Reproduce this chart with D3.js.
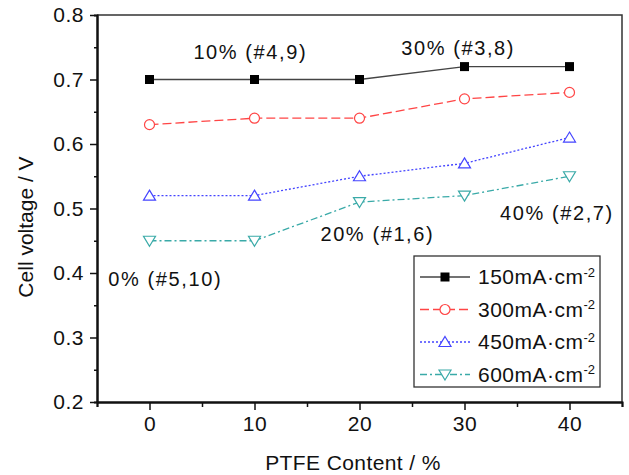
<!DOCTYPE html>
<html>
<head>
<meta charset="utf-8">
<script src="https://cdn.jsdelivr.net/npm/d3@7"></script>
<style>
	body { margin: 0; background: #fff; }
	text { font-family: "Liberation Sans", Arial, sans-serif; fill: #111; }
</style>
</head>
<body>
<svg class="chart"></svg>
<script>
// PTFE content (x) and cell voltage for each current density
var ptfe = [0, 10, 20, 30, 40];
var v150 = [0.70, 0.70, 0.70, 0.72, 0.72];
var v300 = [0.63, 0.64, 0.64, 0.67, 0.68];
var v450 = [0.52, 0.52, 0.55, 0.57, 0.61];
var v600 = [0.45, 0.45, 0.51, 0.52, 0.55];
var seriesNames = ['150', '300', '450', '600'];
var xTicks = [0, 10, 20, 30, 40];
var yTicks = [0.2, 0.3, 0.4, 0.5, 0.6, 0.7, 0.8];
var notes = [
	{text: '10% (#4,9)', x: 9.6, y: 0.743},
	{text: '30% (#3,8)', x: 29.4, y: 0.749},
	{text: '20% (#1,6)', x: 21.7, y: 0.461},
	{text: '40% (#2,7)', x: 38.8, y: 0.493},
	{text: '0% (#5,10)', x: 1.5, y: 0.39}
];

window.onload = function() {

	var width = 629,
		height = 475;

	var margin = {top: 15, right: 7, bottom: 73, left: 97},
		w = width - margin.left - margin.right,
		h = height - margin.top - margin.bottom;

	var x = d3.scaleLinear().domain([-5, 45]).range([0, w]),
		y = d3.scaleLinear().domain([0.2, 0.8]).range([h, 0]);

	var svg = d3.select('.chart')
		.attr('width', width)
		.attr('height', height);

	var chart = svg.append('g')
		.attr('transform', 'translate(' + margin.left + ',' + margin.top + ')');

	// frame on top and right
	chart.append('path')
		.attr('d', 'M0,0H' + w + 'V' + h)
		.attr('fill', 'none')
		.attr('stroke', '#333')
		.attr('stroke-width', 1.5);

	// minor ticks
	var xMinor = d3.axisBottom(x).tickValues(d3.range(-5, 46, 10)).tickSize(5).tickFormat('');
	var yMinor = d3.axisLeft(y).tickValues(d3.range(0.25, 0.8, 0.1)).tickSize(3).tickFormat('');

	var xAxis = d3.axisBottom(x).tickValues(xTicks).tickSize(8).tickPadding(6).tickSizeOuter(0);
	var yAxis = d3.axisLeft(y).tickValues(yTicks).tickSize(7).tickPadding(6).tickSizeOuter(0)
		.tickFormat(d3.format('.1f'));

	chart.append('g').attr('transform', 'translate(0,' + h + ')').call(xMinor);
	chart.append('g').call(yMinor);

	var gx = chart.append('g')
		.attr('class', 'x axis')
		.attr('transform', 'translate(0,' + h + ')')
		.call(xAxis);
	var gy = chart.append('g')
		.attr('class', 'y axis')
		.call(yAxis);

	chart.selectAll('.domain').attr('stroke', '#111').attr('stroke-width', 2);
	chart.selectAll('.tick line').attr('stroke', '#111').attr('stroke-width', 1.5);
	chart.selectAll('.tick text').style('font-size', '21px').attr('fill', '#111')
		.style('letter-spacing', '0.5px')
		.style('font-family', '"Liberation Sans", Arial, sans-serif');

	// axis titles
	svg.append('text')
		.attr('x', 353)
		.attr('y', 470)
		.attr('text-anchor', 'middle')
		.style('font-size', '21px')
		.style('letter-spacing', '0.4px')
		.text('PTFE Content / %');

	svg.append('text')
		.attr('transform', 'translate(33,227) rotate(-90)')
		.attr('text-anchor', 'middle')
		.style('font-size', '21px')
		.text('Cell voltage / V');

	var styles = [
		{values: v150, color: '#000', line: '#444', dash: null, marker: 'square'},
		{values: v300, color: '#ff4545', line: '#ff4545', dash: '9,4', marker: 'circle'},
		{values: v450, color: '#4444ff', line: '#4444ff', dash: '2,2', marker: 'up'},
		{values: v600, color: '#3aaaa8', line: '#3aaaa8', dash: '7,3,2,3', marker: 'down'}
	];

	var line = d3.line()
		.x(function(d, i) { return x(ptfe[i]); })
		.y(function(d) { return y(d); });

	function drawMarker(g, type, color) {
		if (type == 'square') {
			g.append('rect').attr('x', -4.5).attr('y', -4.5).attr('width', 9).attr('height', 9)
				.attr('fill', color);
		} else if (type == 'circle') {
			g.append('circle').attr('r', 5).attr('fill', '#fff').attr('stroke', color).attr('stroke-width', 1.2);
		} else if (type == 'up') {
			g.append('path').attr('d', 'M0,-5.5L6,4.5L-6,4.5Z').attr('fill', '#fff')
				.attr('stroke', color).attr('stroke-width', 1.2);
		} else {
			g.append('path').attr('d', 'M0,5.5L6,-4.5L-6,-4.5Z').attr('fill', '#fff')
				.attr('stroke', color).attr('stroke-width', 1.2);
		}
	}

	styles.forEach(function(s) {
		chart.append('path')
			.datum(s.values)
			.attr('d', line)
			.attr('fill', 'none')
			.attr('stroke', s.line)
			.attr('stroke-width', 1.3)
			.attr('stroke-dasharray', s.dash);

		s.values.forEach(function(d, i) {
			var g = chart.append('g')
				.attr('transform', 'translate(' + x(ptfe[i]) + ',' + y(d) + ')');
			drawMarker(g, s.marker, s.color);
		});
	});

	// annotations
	chart.selectAll('.note')
		.data(notes)
	.enter().append('text')
		.attr('class', 'note')
		.attr('x', function(d) { return x(d.x); })
		.attr('y', function(d) { return y(d.y); })
		.attr('text-anchor', 'middle')
		.attr('dy', '.35em')
		.style('font-size', '20px')
		.style('letter-spacing', '1.6px')
		.text(function(d) { return d.text; });

	// legend
	var legend = svg.append('g').attr('transform', 'translate(414,256)');
	legend.append('rect')
		.attr('width', 186)
		.attr('height', 131)
		.attr('fill', '#fff')
		.attr('stroke', '#333')
		.attr('stroke-width', 1.3);

	styles.forEach(function(s, i) {
		var row = legend.append('g').attr('transform', 'translate(0,' + (21 + i * 32.5) + ')');
		row.append('line')
			.attr('x1', 6).attr('x2', 56)
			.attr('stroke', s.line)
			.attr('stroke-width', 1.3)
			.attr('stroke-dasharray', s.dash);
		var m = row.append('g').attr('transform', 'translate(31,0)');
		drawMarker(m, s.marker, s.color);
		var t = row.append('text')
			.attr('x', 64)
			.attr('dy', '.35em')
			.style('font-size', '21px')
			.style('letter-spacing', '0.5px');
		t.append('tspan').text(seriesNames[i] + 'mA\u00b7cm');
		t.append('tspan').attr('dy', '-0.6em').style('font-size', '13px').style('letter-spacing', '0px').text('-2');
	});
}
</script>
</body>
</html>
